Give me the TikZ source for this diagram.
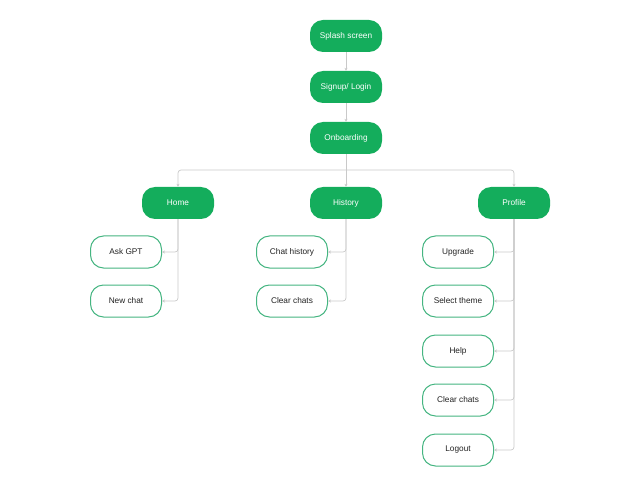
\documentclass[tikz,border=0pt]{standalone}
\usepackage{fontspec}
\setmainfont{Liberation Sans}
\usetikzlibrary{arrows.meta}
\definecolor{gfill}{HTML}{14AD5C}
\definecolor{gline}{HTML}{45B581}
\definecolor{conncol}{HTML}{C9C9C9}
\definecolor{txt}{HTML}{222222}
\tikzset{
  parentbox/.style={draw=none, fill=gfill, rounded corners=13bp, minimum width=72bp, minimum height=32bp, text=white, font=\fontsize{8.3}{9}\selectfont, inner sep=0pt},
  childbox/.style={draw=gline, line width=1bp, fill=white, rounded corners=13bp, minimum width=71bp, minimum height=32bp, text=txt, font=\fontsize{8.3}{9}\selectfont, inner sep=0pt},
  conn/.style={draw=conncol, line width=0.7bp, rounded corners=3bp, -{Stealth[length=3bp,width=3bp]}},
}
\begin{document}
\begin{tikzpicture}[x=1bp,y=-1bp]
\useasboundingbox (0,0) rectangle (640,487);
\node[parentbox] (splash) at (346,36) {Splash screen};
\node[parentbox] (signup) at (346,87) {Signup/ Login};
\node[parentbox] (onb) at (346,138) {Onboarding};
\node[parentbox] (home) at (178,203) {Home};
\node[parentbox] (hist) at (346,203) {History};
\node[parentbox] (prof) at (514,203) {Profile};
\coordinate (split) at (346,170);

\node[childbox] (ask) at (126,252) {Ask GPT};
\node[childbox] (new) at (126,301) {New chat};
\node[childbox] (chist) at (292,252) {Chat history};
\node[childbox] (clear1) at (292,301) {Clear chats};
\node[childbox] (upg) at (458,252) {Upgrade};
\node[childbox] (theme) at (458,301) {Select theme};
\node[childbox] (help) at (458,351) {Help};
\node[childbox] (clear2) at (458,400) {Clear chats};
\node[childbox] (logout) at (458,450) {Logout};

\draw[conn] (splash) -- (signup);
\draw[conn] (signup) -- (onb);
\draw[conn, -] (onb.south) -- (split);
\draw[conn] (split) -| (home.north);
\draw[conn] (split) -- (hist.north);
\draw[conn] (split) -| (prof.north);

\draw[conn] (home.south) |- (ask.east);
\draw[conn] (home.south) |- (new.east);
\draw[conn] (hist.south) |- (chist.east);
\draw[conn] (hist.south) |- (clear1.east);
\draw[conn] (prof.south) |- (upg.east);
\draw[conn] (prof.south) |- (theme.east);
\draw[conn] (prof.south) |- (help.east);
\draw[conn] (prof.south) |- (clear2.east);
\draw[conn] (prof.south) |- (logout.east);
\end{tikzpicture}
\end{document}
